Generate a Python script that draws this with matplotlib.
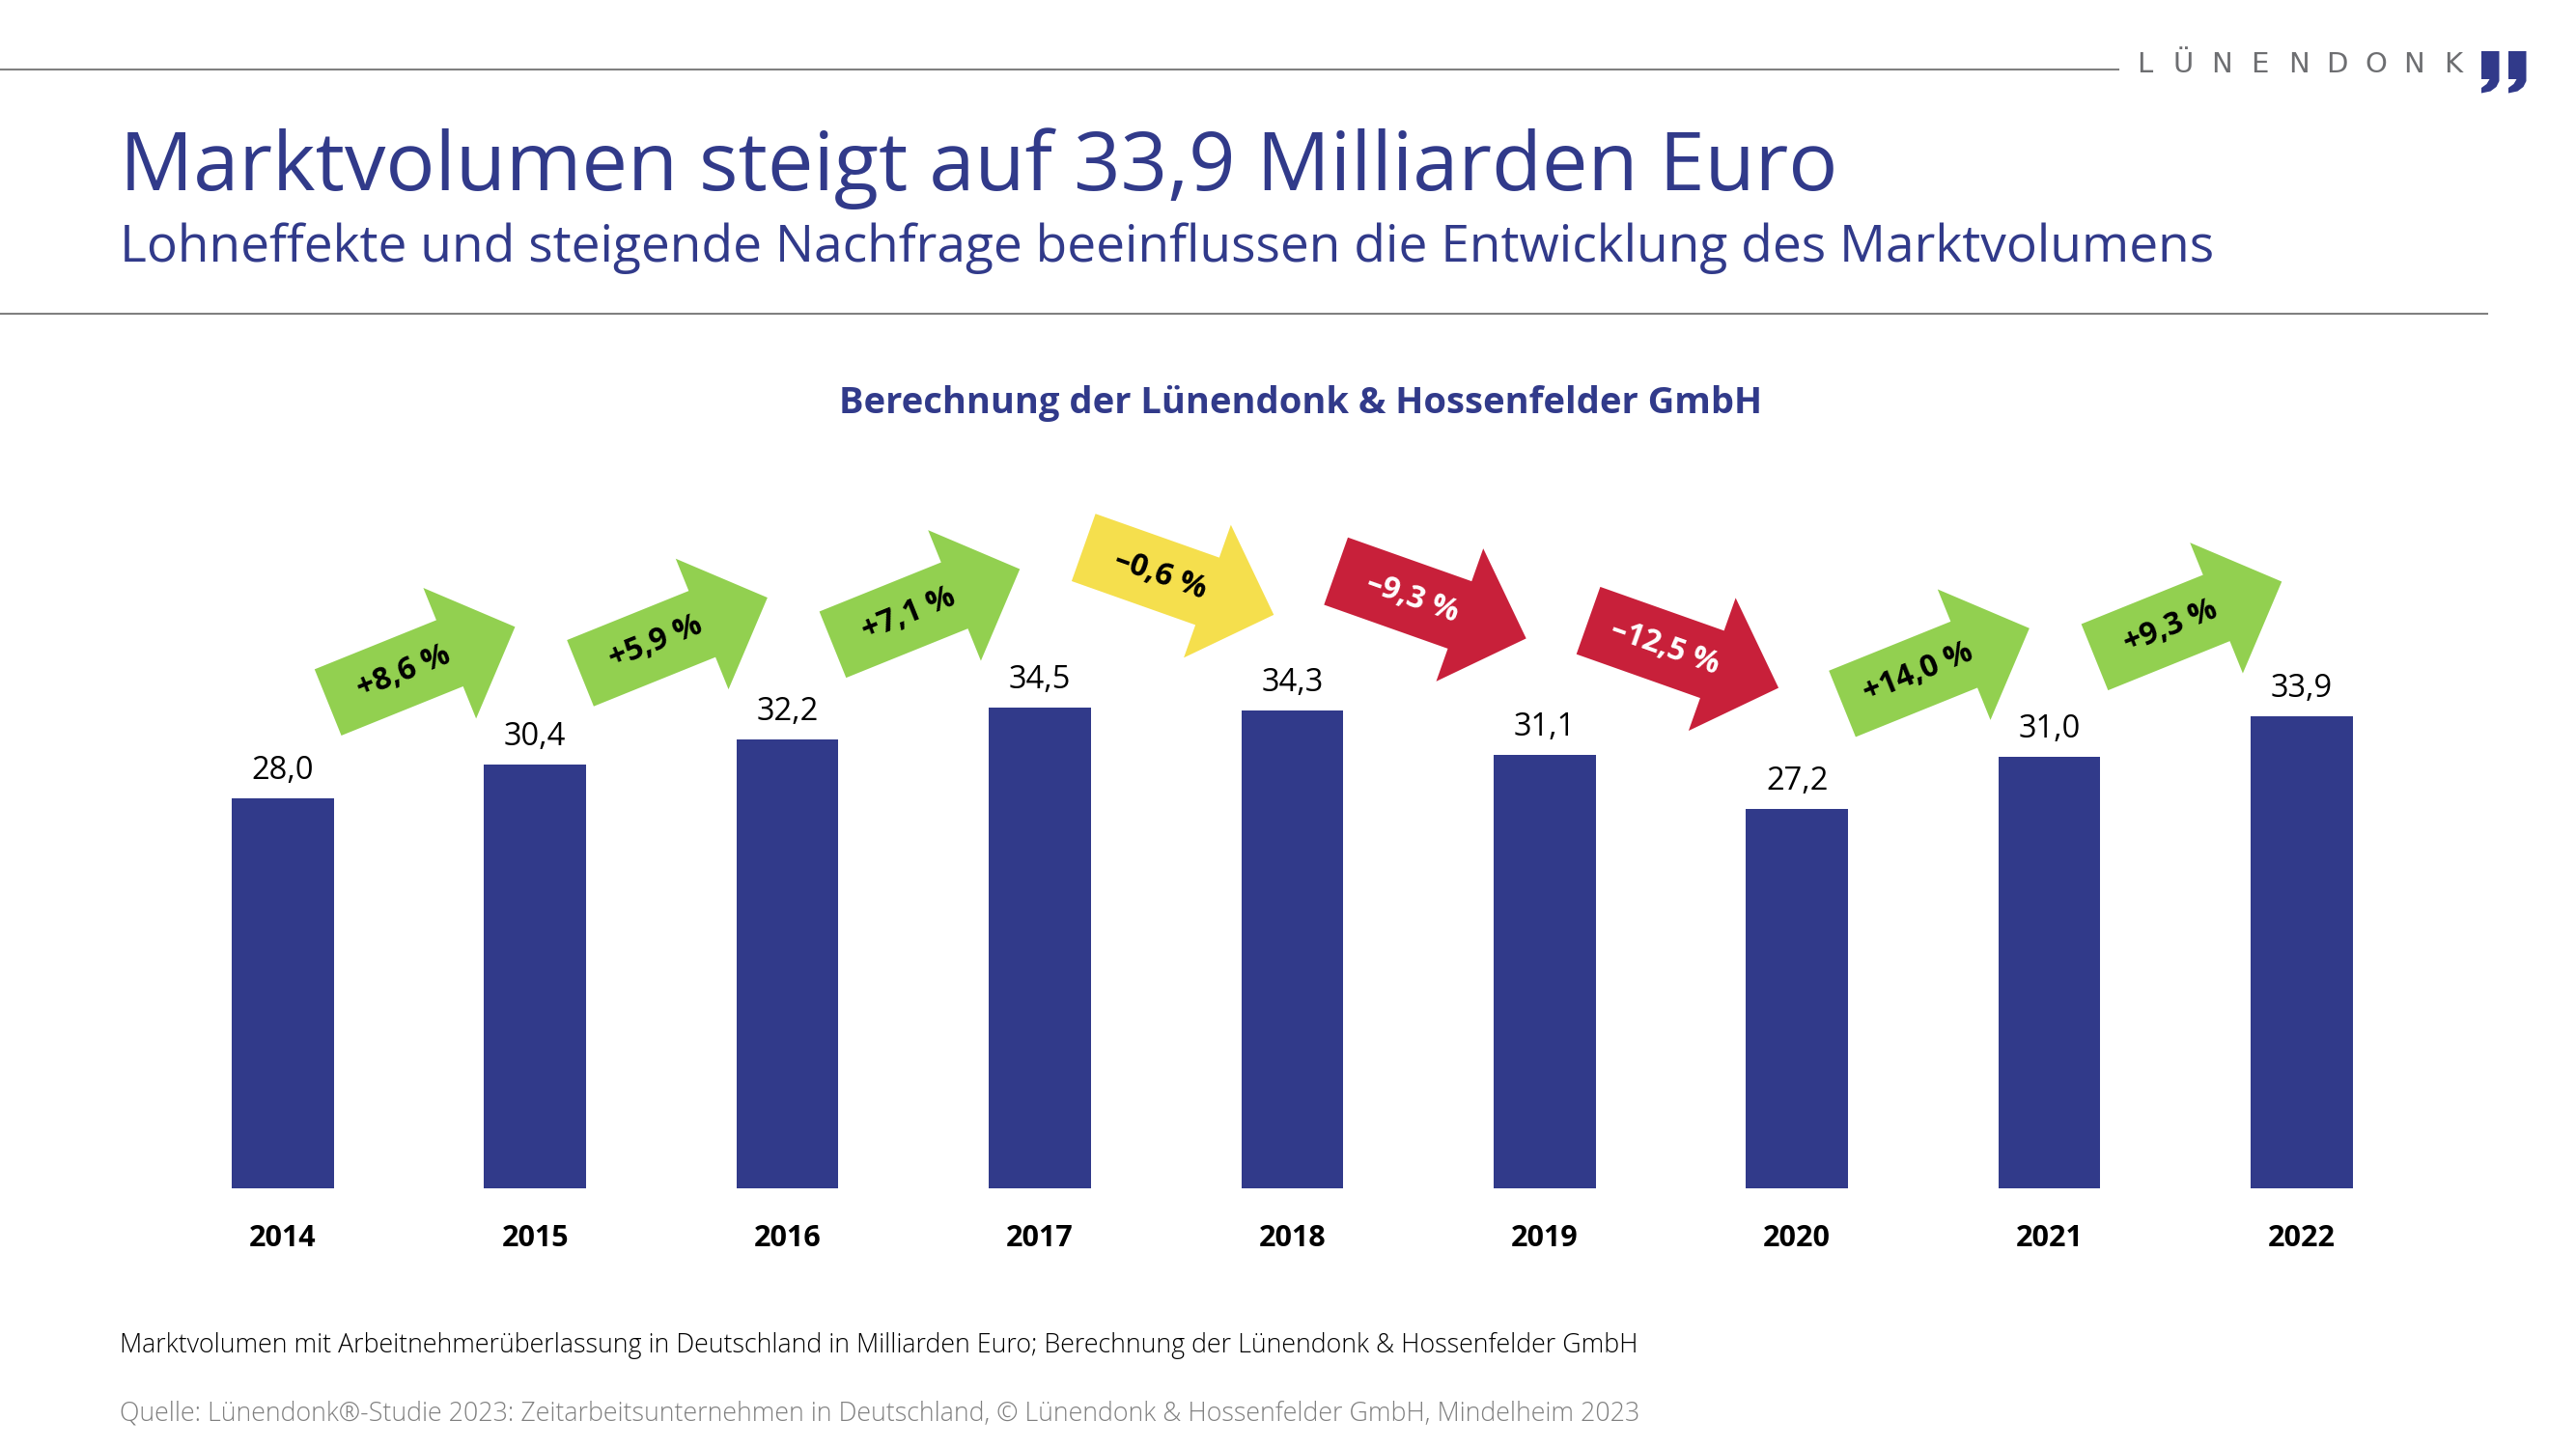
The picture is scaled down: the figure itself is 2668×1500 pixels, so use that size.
import matplotlib.pyplot as plt
from matplotlib.patches import Polygon
from matplotlib.transforms import IdentityTransform
import numpy as np

# data
years = ["2014", "2015", "2016", "2017", "2018", "2019", "2020", "2021", "2022"]
volume = [28.0, 30.4, 32.2, 34.5, 34.3, 31.1, 27.2, 31.0, 33.9]
change = [8.6, 5.9, 7.1, -0.6, -9.3, -12.5, 14.0, 9.3]

title = "Marktvolumen steigt auf 33,9 Milliarden Euro"
subtitle = "Lohneffekte und steigende Nachfrage beeinflussen die Entwicklung des Marktvolumens"
chart_title = "Berechnung der Lünendonk & Hossenfelder GmbH"
footnote = ("Marktvolumen mit Arbeitnehmerüberlassung in Deutschland in Milliarden Euro; "
            "Berechnung der Lünendonk & Hossenfelder GmbH")
source = ("Quelle: Lünendonk®-Studie 2023: Zeitarbeitsunternehmen in Deutschland, "
          "© Lünendonk & Hossenfelder GmbH, Mindelheim 2023")

BLUE = "#313a8a"
GREEN = "#92d050"
YELLOW = "#f5df4d"
RED = "#c8203a"
GRAY = "#808080"

plt.rcParams["font.family"] = ["Open Sans", "DejaVu Sans"]

W, H = 2668, 1500
fig = plt.figure(figsize=(W / 100, H / 100), dpi=100)
renderer = fig.canvas.get_renderer()


def fx(px):
    return px / W


def fy(py):
    return 1 - py / H


def fit_text(x, y, s, width, size, **kw):
    # scale the font so the text spans the given pixel width
    t = fig.text(fx(x), fy(y), s, fontsize=size, **kw)
    w = t.get_window_extent(renderer).width
    t.set_fontsize(size * width / w)
    return t


# header
fig.add_artist(plt.Line2D([0, fx(2194)], [fy(72), fy(72)], color=GRAY, lw=1.5))
fig.add_artist(plt.Line2D([0, fx(2576)], [fy(325), fy(325)], color=GRAY, lw=1.5))
fit_text(124, 197, title, 1781, 64, color=BLUE, va="baseline")
fit_text(124, 271, subtitle, 2167, 40, color=BLUE, va="baseline")

# logo
for k, ch in enumerate("LÜNENDONK"):
    fig.text(fx(2221 + 39.9 * k), fy(75), ch, fontsize=21, color="#6d6e71",
             ha="center", va="baseline", family="DejaVu Sans")
for x0 in [2570, 2598]:
    w = 18.5
    shape = [(0, 0), (w, 0), (w, 31), (w - 3, 37), (w - 9, 41.5), (0, 43.5),
             (0, 38), (w - 13, 34), (w - 10, 29), (0, 29)]
    verts = [(x0 + a, H - 53 - b) for a, b in shape]
    fig.add_artist(Polygon(verts, closed=True, color=BLUE, lw=0,
                           transform=IdentityTransform()))

fit_text(1347, 428, chart_title, 956, 26, color=BLUE, fontweight="bold",
         ha="center", va="baseline")

# bar chart
ax = fig.add_axes([fx(162.1), fy(1230.7), 2352.6 / W, 55 * 14.42 / H])
x = np.arange(len(years))
ax.bar(x, volume, width=0.404, color=BLUE)
ax.set_xlim(-0.5, len(years) - 0.5)
ax.set_ylim(0, 55)
ax.axis("off")

for i, v in enumerate(volume):
    ax.annotate(f"{v:.1f}".replace(".", ","), (i, v), xytext=(0, 14.5),
                textcoords="offset points", ha="center", va="baseline", fontsize=23.5)
    ax.annotate(years[i], (i, 0), xytext=(0, -43.4), textcoords="offset points",
                ha="center", va="baseline", fontsize=22, fontweight="bold")

# change arrows between bars
L, BW, HW, HL = 209, 74, 146, 73
for i, c in enumerate(change):
    mid = (volume[i] + volume[i + 1]) / 2
    if c > 0:
        color, tcol, ang, yc = GREEN, "black", 22, mid + 8.4
    elif c > -1:
        color, tcol, ang, yc = YELLOW, "black", -19.5, mid + 9.2
    else:
        color, tcol, ang, yc = RED, "white", -19.5, mid + 9.2
    cx, cy = ax.transData.transform((i + 0.55, yc))
    a = np.deg2rad(ang)
    d = np.array([np.cos(a), np.sin(a)])
    n = np.array([-np.sin(a), np.cos(a)])
    local = [(-L / 2, -BW / 2), (L / 2 - HL, -BW / 2), (L / 2 - HL, -HW / 2),
             (L / 2, 0), (L / 2 - HL, HW / 2), (L / 2 - HL, BW / 2), (-L / 2, BW / 2)]
    verts = [(cx + u * d[0] + v * n[0], cy + u * d[1] + v * n[1]) for u, v in local]
    fig.add_artist(Polygon(verts, closed=True, color=color, lw=0,
                           transform=IdentityTransform()))
    label = ("+" if c > 0 else "\u2013") + f"{abs(c):.1f}".replace(".", ",") + " %"
    tx, ty = cx - 20 * d[0], cy - 20 * d[1]
    fig.text(tx, ty, label, transform=IdentityTransform(), rotation=ang,
             rotation_mode="anchor", ha="center", va="center", fontsize=23,
             fontweight="bold", color=tcol)

# footer
fit_text(124, 1401, footnote, 1575, 19, color="black", va="baseline", fontweight="light")
fit_text(124, 1472, source, 1576, 19, color=GRAY, va="baseline", fontweight="light")

fig.savefig("out.png", dpi=100)
